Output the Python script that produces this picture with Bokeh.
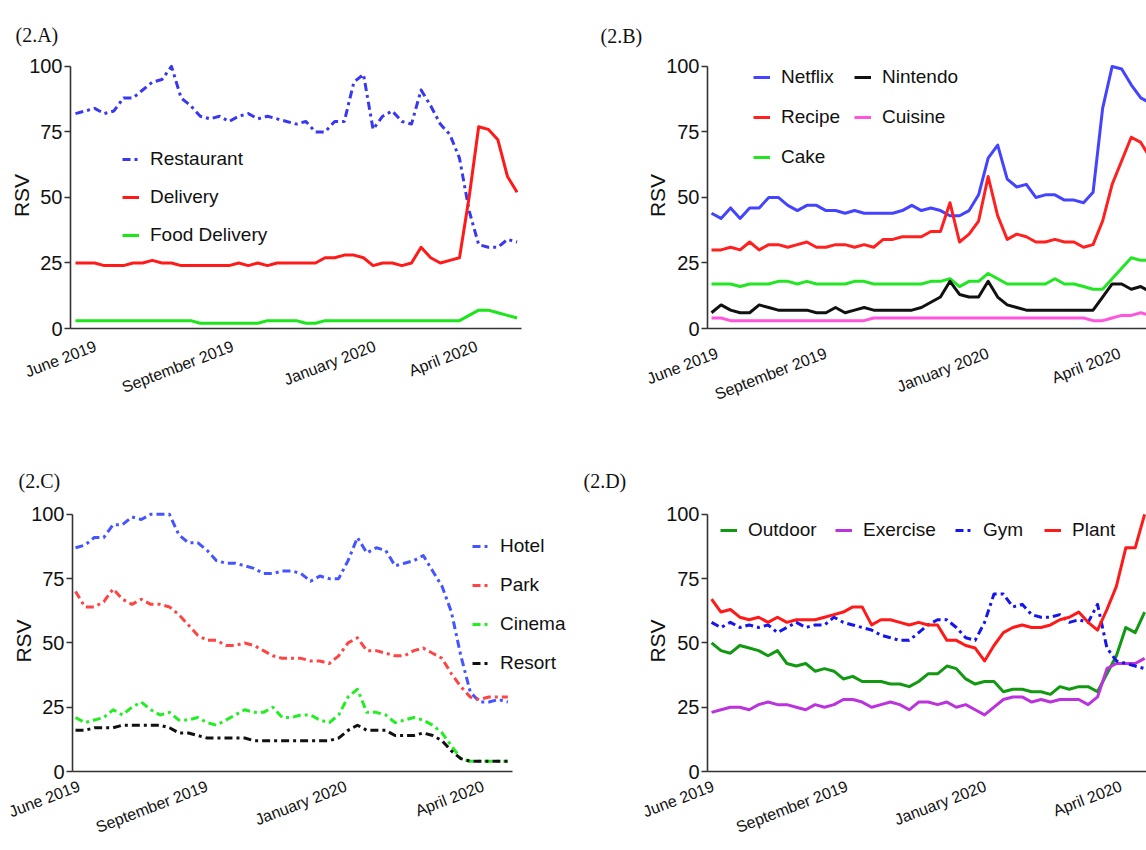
from math import radians
from bokeh.plotting import figure
from bokeh.models import Range1d, FixedTicker, Legend, LegendItem
from bokeh.layouts import column, row
from bokeh.embed import file_html
from bokeh.resources import INLINE

# ---------------- data (weekly RSV, June 2019 - April 2020) ----------------
weeks = list(range(47))
month_labels = ["June 2019", "September 2019", "January 2020", "April 2020"]
y_ticks = [0, 25, 50, 75, 100]

# (2.A)
restaurant = [82, 83, 84, 82, 83, 88, 88, 91, 94, 95, 100, 88, 85, 81, 80, 81, 79, 81, 82, 80,
              81, 80, 79, 78, 79, 75, 75, 79, 79, 94, 97, 76, 81, 83, 79, 78, 91, 85, 78, 74,
              65, 45, 32, 31, 31, 34, 33]
delivery = [25, 25, 25, 24, 24, 24, 25, 25, 26, 25, 25, 24, 24, 24, 24, 24, 24, 25, 24, 25,
            24, 25, 25, 25, 25, 25, 27, 27, 28, 28, 27, 24, 25, 25, 24, 25, 31, 27, 25, 26,
            27, 50, 77, 76, 72, 58, 52]
food_delivery = [3, 3, 3, 3, 3, 3, 3, 3, 3, 3, 3, 3, 3, 2, 2, 2, 2, 2, 2, 2,
                 3, 3, 3, 3, 2, 2, 3, 3, 3, 3, 3, 3, 3, 3, 3, 3, 3, 3, 3, 3,
                 3, 5, 7, 7, 6, 5, 4]

# (2.B)
netflix = [44, 42, 46, 42, 46, 46, 50, 50, 47, 45, 47, 47, 45, 45, 44, 45, 44, 44, 44, 44,
           45, 47, 45, 46, 45, 43, 43, 45, 51, 65, 70, 57, 54, 55, 50, 51, 51, 49, 49, 48,
           52, 84, 100, 99, 93, 88, 86]
recipe = [30, 30, 31, 30, 33, 30, 32, 32, 31, 32, 33, 31, 31, 32, 32, 31, 32, 31, 34, 34,
          35, 35, 35, 37, 37, 48, 33, 36, 41, 58, 43, 34, 36, 35, 33, 33, 34, 33, 33, 31,
          32, 41, 55, 64, 73, 71, 65]
cake = [17, 17, 17, 16, 17, 17, 17, 18, 18, 17, 18, 17, 17, 17, 17, 18, 18, 17, 17, 17,
        17, 17, 17, 18, 18, 19, 16, 18, 18, 21, 19, 17, 17, 17, 17, 17, 19, 17, 17, 16,
        15, 15, 19, 23, 27, 26, 26]
nintendo = [6, 9, 7, 6, 6, 9, 8, 7, 7, 7, 7, 6, 6, 8, 6, 7, 8, 7, 7, 7,
            7, 7, 8, 10, 12, 18, 13, 12, 12, 18, 12, 9, 8, 7, 7, 7, 7, 7, 7, 7,
            7, 12, 17, 17, 15, 16, 14]
cuisine = [4, 4, 3, 3, 3, 3, 3, 3, 3, 3, 3, 3, 3, 3, 3, 3, 3, 4, 4, 4,
           4, 4, 4, 4, 4, 4, 4, 4, 4, 4, 4, 4, 4, 4, 4, 4, 4, 4, 4, 4,
           3, 3, 4, 5, 5, 6, 5]

# (2.C)
hotel = [87, 88, 91, 91, 96, 96, 99, 98, 100, 100, 100, 92, 89, 89, 86, 82, 81, 81, 80, 79,
         77, 77, 78, 78, 77, 74, 76, 75, 75, 82, 91, 85, 87, 86, 80, 81, 82, 84, 78, 72,
         62, 45, 31, 27, 27, 28, 27]
park = [70, 64, 64, 66, 71, 67, 65, 67, 65, 65, 64, 61, 57, 53, 51, 51, 49, 49, 50, 49,
        47, 45, 44, 44, 44, 43, 43, 42, 45, 50, 52, 47, 47, 46, 45, 45, 47, 48, 46, 44,
        38, 33, 29, 28, 29, 29, 29]
cinema = [21, 19, 20, 21, 24, 22, 25, 27, 24, 22, 23, 20, 20, 21, 19, 18, 20, 22, 24, 23,
          23, 25, 21, 21, 22, 22, 20, 19, 22, 29, 32, 23, 23, 22, 19, 20, 21, 20, 18, 15,
          10, 5, 4, 4, 4, 4, 4]
resort = [16, 16, 17, 17, 17, 18, 18, 18, 18, 18, 17, 15, 15, 14, 13, 13, 13, 13, 13, 12,
          12, 12, 12, 12, 12, 12, 12, 12, 13, 16, 18, 16, 16, 16, 14, 14, 14, 15, 14, 12,
          8, 5, 4, 4, 4, 4, 4]

# (2.D)
outdoor = [50, 47, 46, 49, 48, 47, 45, 47, 42, 41, 42, 39, 40, 39, 36, 37, 35, 35, 35, 34,
           34, 33, 35, 38, 38, 41, 40, 36, 34, 35, 35, 31, 32, 32, 31, 31, 30, 33, 32, 33,
           33, 31, 38, 45, 56, 54, 62]
exercise = [23, 24, 25, 25, 24, 26, 27, 26, 26, 25, 24, 26, 25, 26, 28, 28, 27, 25, 26, 27,
            26, 24, 27, 27, 26, 27, 25, 26, 24, 22, 25, 28, 29, 29, 27, 28, 27, 28, 28, 28,
            26, 29, 40, 42, 42, 42, 44]
gym = [58, 56, 58, 56, 57, 56, 57, 54, 56, 58, 56, 57, 57, 60, 58, 57, 56, 55, 53, 52,
       51, 51, 54, 57, 59, 59, 56, 52, 51, 58, 69, 69, 64, 65, 61, 60, 60, 61, 58, 59,
       58, 65, 48, 43, 42, 41, 40]
plant = [67, 62, 63, 60, 59, 60, 58, 60, 58, 59, 59, 59, 60, 61, 62, 64, 64, 57, 59, 59,
         58, 57, 58, 57, 57, 51, 51, 49, 48, 43, 49, 54, 56, 57, 56, 56, 57, 59, 60, 62,
         58, 55, 63, 72, 87, 87, 100]

# ---------------- styling ----------------
SANS = "Liberation Sans, Arial, sans-serif"
SERIF = "Liberation Serif, Times New Roman, serif"
DASHDOT = "8 4 3 4"
LW = 3


def make_panel(width, height, bl, br, bt, bb, xr, xbounds, tick_pos, standoff,
               tag, tag_offset, tag_standoff, rsv_standoff):
    p = figure(width=width, height=height, output_backend="svg", toolbar_location=None,
               x_range=Range1d(*xr), y_range=Range1d(0, 101.5),
               min_border_left=bl, min_border_right=br, min_border_top=bt, min_border_bottom=bb)
    p.grid.visible = False
    p.outline_line_color = None
    p.background_fill_color = "white"
    p.border_fill_color = "white"

    p.title.text = tag
    p.title.align = "left"
    p.title.offset = tag_offset
    p.title.standoff = tag_standoff
    p.title.text_font = SERIF
    p.title.text_font_size = "20px"
    p.title.text_font_style = "normal"
    p.title.text_color = "#111111"

    ya = p.yaxis[0]
    ya.ticker = FixedTicker(ticks=y_ticks)
    ya.bounds = (0, 100)
    ya.axis_line_width = 1.6
    ya.axis_line_color = "#333333"
    ya.major_tick_line_color = "#333333"
    ya.major_tick_line_width = 1.6
    ya.major_tick_out = 6
    ya.major_tick_in = 0
    ya.minor_tick_line_color = None
    ya.major_label_text_font = SANS
    ya.major_label_text_font_size = "20px"
    ya.major_label_text_color = "#111111"
    ya.major_label_standoff = 2
    ya.axis_label = "RSV"
    ya.axis_label_text_font = SANS
    ya.axis_label_text_font_size = "21px"
    ya.axis_label_text_font_style = "normal"
    ya.axis_label_text_color = "#111111"
    ya.axis_label_standoff = rsv_standoff

    xa = p.xaxis[0]
    xa.ticker = FixedTicker(ticks=tick_pos)
    xa.bounds = xbounds
    xa.major_label_overrides = {t: lab for t, lab in zip(tick_pos, month_labels)}
    xa.major_label_orientation = radians(21)
    xa.axis_line_width = 1.6
    xa.axis_line_color = "#333333"
    xa.major_tick_line_color = None
    xa.major_tick_out = 0
    xa.major_tick_in = 0
    xa.minor_tick_line_color = None
    xa.major_label_text_font = SANS
    xa.major_label_text_font_size = "16px"
    xa.major_label_text_color = "#111111"
    xa.major_label_standoff = standoff
    return p


def add_legend(p, items, loc, spacing):
    leg = Legend(items=[LegendItem(label=l, renderers=[r]) for l, r in items],
                 location=loc, orientation="vertical",
                 glyph_width=17, glyph_height=26, label_height=26, label_standoff=11,
                 spacing=spacing, padding=0, margin=0,
                 border_line_color=None, background_fill_alpha=0,
                 label_text_font=SANS, label_text_font_size="19px",
                 label_text_color="#111111")
    p.add_layout(leg)


def line(p, y, color, dash="solid"):
    return p.line(weeks, y, line_color=color, line_width=LW, line_dash=dash,
                  line_join="round")


# ---------------- panel A ----------------
pA = make_panel(580, 445, 70, 59, 62, 113, (-0.52, 46.46), (-0.52, 46.46),
                [2.1, 16.4, 31.2, 41.8], 17, "(2.A)", -55, 34, -7)
rA1 = line(pA, restaurant, "#3838F0", DASHDOT)
rA2 = line(pA, delivery, "#FF1A1A")
rA3 = line(pA, food_delivery, "#1AE61A")
add_legend(pA, [("Restaurant", rA1), ("Delivery", rA2), ("Food Delivery", rA3)], (52, 80), 12)

# ---------------- panel B ----------------
pB = make_panel(566, 445, 127, 0, 60, 117, (-0.42, 45.6), (-0.42, 45.6),
                [0.6, 12.0, 29.0, 42.8], 24, "(2.B)", -107, 32, -6)
rB1 = line(pB, netflix, "#4444FF")
rB2 = line(pB, recipe, "#FF2020")
rB3 = line(pB, cake, "#22E622")
rB4 = line(pB, nintendo, "#111111")
rB5 = line(pB, cuisine, "#FF55DD")
add_legend(pB, [("Netflix", rB1), ("Recipe", rB2), ("Cake", rB3)], (46, 158.5), 14)
add_legend(pB, [("Nintendo", rB4), ("Cuisine", rB5)], (147, 198.5), 14)

# ---------------- panel C ----------------
pC = make_panel(580, 405, 72, 5, 62, 78, (-0.32, 53.2), (-0.32, 46.5),
                [0.4, 14.0, 28.8, 43.4], 14, "(2.C)", -54, 37, -7)
rC1 = line(pC, hotel, "#4455FF", DASHDOT)
rC2 = line(pC, park, "#FF4444", DASHDOT)
rC3 = line(pC, cinema, "#22EE22", DASHDOT)
rC4 = line(pC, resort, "#111111", DASHDOT)
add_legend(pC, [("Hotel", rC1), ("Park", rC2), ("Cinema", rC3), ("Resort", rC4)], (400, 95.3), 13)

# ---------------- panel D ----------------
pD = make_panel(566, 405, 127, 0, 65, 79, (-0.43, 46.2), (-0.43, 46.2),
                [0.2, 14.4, 29.1, 43.5], 14, "(2.D)", -124, 38, -6)
rD1 = line(pD, outdoor, "#119911")
rD2 = line(pD, exercise, "#BB33DD")
rD3 = line(pD, gym, "#1515EE", DASHDOT)
rD4 = line(pD, plant, "#FF1A1A")
add_legend(pD, [("Outdoor", rD1)], (13, 228), 0)
add_legend(pD, [("Exercise", rD2)], (128, 228), 0)
add_legend(pD, [("Gym", rD3)], (248, 228), 0)
add_legend(pD, [("Plant", rD4)], (337, 228), 0)

layout = column(row(pA, pB), row(pC, pD))
open("out.html", "w").write(file_html(layout, INLINE))
